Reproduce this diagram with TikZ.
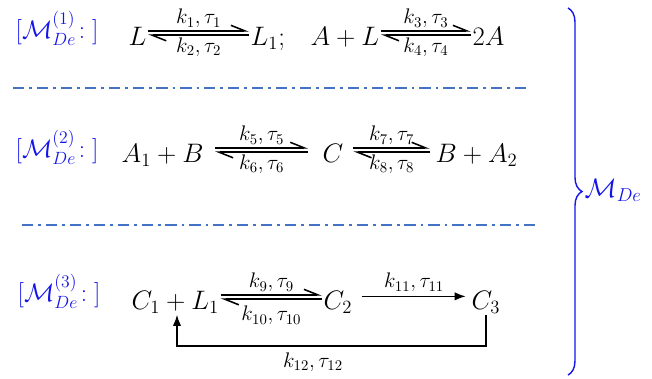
\documentclass[tikz,border=0pt]{standalone}
\usepackage{fix-cm}
\usepackage{amsmath}
\definecolor{TagBlue}{RGB}{20, 20, 235}
\definecolor{SepBlue}{RGB}{68, 114, 196}
\usetikzlibrary{arrows.meta, positioning, calc, decorations.pathreplacing}

\begin{document}
\begin{tikzpicture}[
    x=0.025cm, y=-0.025cm,
    every node/.style={font=\fontsize{19}{22}\selectfont, inner sep=1pt},
    tag/.style={text=TagBlue, anchor=base west, font=\fontsize{18}{21}\selectfont},
    species/.style={anchor=base west},
    rate/.style={font=\fontsize{15}{17}\selectfont, inner sep=1.5pt},
    harpoon/.style={line width=1.1pt, -{Straight Barb[left, length=10pt, width=8pt]}},
    react/.style={line width=1.1pt, -{Latex[length=8pt, width=6pt]}},
    separator/.style={SepBlue, line width=1.4pt,
                      dash pattern=on 8pt off 3.5pt on 2pt off 3.5pt}
]
\useasboundingbox (0,0) rectangle (652,378);

% module 1
\node[tag] (tag1) at (14,38) {$[\mathcal{M}^{(1)}_{De}\!:\;]$};
\node[species] (L) at (127,45) {$L$};
\node[species] (L1) at (249,45) {$L_1$;};
\node[species] (AL) at (309,45) {$A+L$};
\node[species] (twoA) at (471,45) {$2A$};
\draw[harpoon] ([yshift=10pt]L.base east) -- ([yshift=10pt]L1.base west)
    node[rate, midway, above] (r1) {$k_1,\tau_1$};
\draw[harpoon] ([yshift=7pt]L1.base west) -- ([yshift=7pt]L.base east)
    node[rate, midway, below] (r2) {$k_2,\tau_2$};
\draw[harpoon] ([yshift=10pt]AL.base east) -- ([yshift=10pt]twoA.base west)
    node[rate, midway, above] (r3) {$k_3,\tau_3$};
\draw[harpoon] ([yshift=7pt]twoA.base west) -- ([yshift=7pt]AL.base east)
    node[rate, midway, below] (r4) {$k_4,\tau_4$};

\draw[separator] (13,88) -- (530,88);

% module 2
\node[tag] (tag2) at (14,157) {$[\mathcal{M}^{(2)}_{De}\!:\;]$};
\node[species] (AB) at (120,162) {$A_1+B$};
\node[species] (C) at (321,162) {$C$};
\node[species] (BA) at (434,162) {$B+A_2$};
\draw[harpoon] ([xshift=7pt, yshift=10pt]AB.base east) -- ([xshift=-9pt, yshift=10pt]C.base west)
    node[rate, midway, above] (r5) {$k_5,\tau_5$};
\draw[harpoon] ([xshift=-9pt, yshift=7pt]C.base west) -- ([xshift=7pt, yshift=7pt]AB.base east)
    node[rate, midway, below] (r6) {$k_6,\tau_6$};
\draw[harpoon] ([xshift=6pt, yshift=10pt]C.base east) -- ([xshift=-3pt, yshift=10pt]BA.base west)
    node[rate, midway, above] (r7) {$k_7,\tau_7$};
\draw[harpoon] ([xshift=-3pt, yshift=7pt]BA.base west) -- ([xshift=6pt, yshift=7pt]C.base east)
    node[rate, midway, below] (r8) {$k_8,\tau_8$};

\draw[separator] (22,225) -- (540,225);

% module 3
\node[tag] (tag3) at (16,301) {$[\mathcal{M}^{(3)}_{De}\!:\;]$};
\node[species] (CL) at (130,309) {$C_1+L_1$};
\node[species] (C2) at (322,309) {$C_2$};
\node[species] (C3) at (470,309) {$C_3$};
\draw[harpoon] ([yshift=10pt]CL.base east) -- ([yshift=10pt]C2.base west)
    node[rate, midway, above] (r9) {$k_9,\tau_9$};
\draw[harpoon] ([yshift=7pt]C2.base west) -- ([yshift=7pt]CL.base east)
    node[rate, midway, below=3pt] (r10) {$k_{10},\tau_{10}$};
\draw[react] ([xshift=6pt, yshift=9pt]C2.base east) -- ([xshift=-3pt, yshift=9pt]C3.base west)
    node[rate, midway, above=1pt] (r11) {$k_{11},\tau_{11}$};
\coordinate (fb) at (177,346);
\draw[react] (C3.south) |- (fb) node[rate, pos=0.78, below=3pt] (r12) {$k_{12},\tau_{12}$}
    -- (fb |- CL.south);

% whole model
\draw[TagBlue, line width=1pt, decorate, decoration={brace, amplitude=0.35cm}]
    (568,8) -- (568,375);
\node[text=TagBlue, anchor=base west] (mde) at (583,197) {$\mathcal{M}_{De}$};
\end{tikzpicture}
\end{document}
